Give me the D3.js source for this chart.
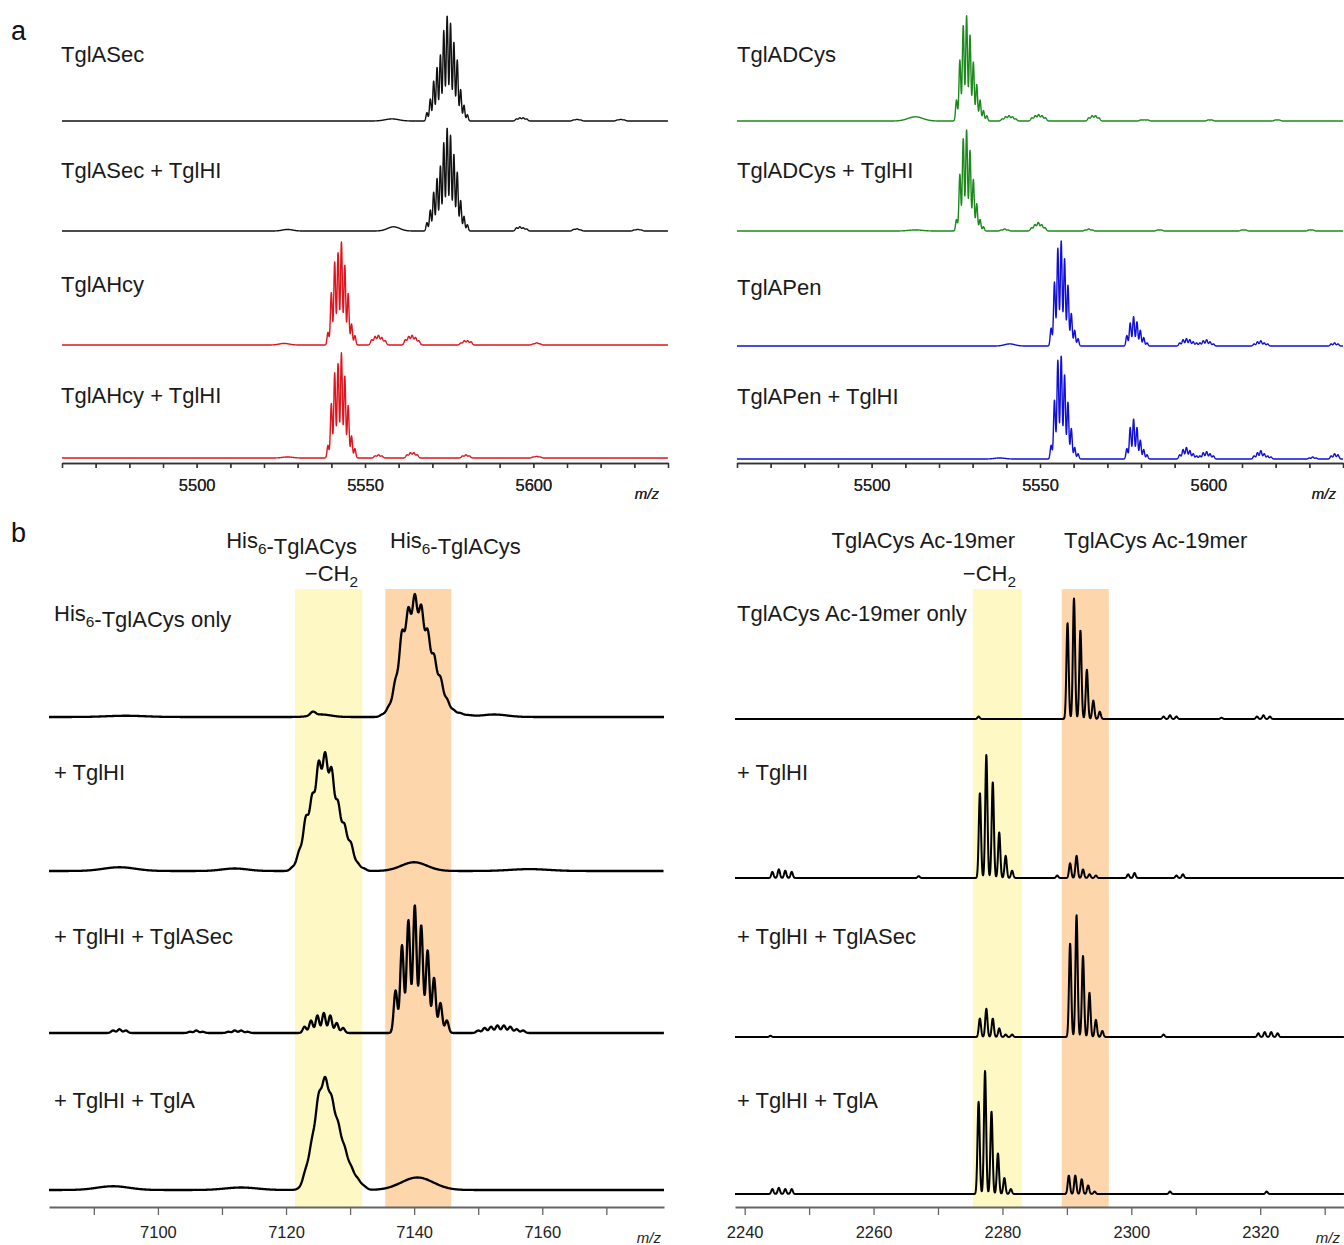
<!DOCTYPE html>
<html>
<head>
<meta charset="utf-8">
<script src="https://cdn.jsdelivr.net/npm/d3@7"></script>
<style>
  body { margin: 0; background: #fff; }
  svg { display: block; font-family: "Liberation Sans", Arial, sans-serif; }
</style>
</head>
<body>
<script>
// Peak lists: [first isotope m/z, peak width (sigma, Da), isotope heights spaced 1 Da]
// heights are % of the tallest peak in the panel row

// a, left
const tglASec = [
  [5568.4, 0.27, [8, 21, 38, 51, 63, 86, 100, 93, 75, 58, 30, 15, 6]],
  [5558, 2.0, [2]],
  [5595, 0.35, [2, 3, 3, 2]],
  [5612, 0.4, [1, 1.5, 1]],
  [5625, 0.4, [1, 1.5, 1]]
];
const tglASecHI = [
  [5568.4, 0.27, [8, 20, 37, 50, 62, 84, 98, 91, 73, 56, 29, 14, 6]],
  [5558.5, 1.8, [4]],
  [5595, 0.35, [3, 4, 3, 2]],
  [5527, 1.5, [1.5]],
  [5612, 0.4, [1.5, 2, 1]],
  [5630, 0.4, [1, 1.5, 1]]
];
const tglAHcy = [
  [5539, 0.27, [12, 50, 79, 88, 98, 76, 49, 20, 9]],
  [5552, 0.35, [5, 8, 9, 7, 4]],
  [5562, 0.35, [5, 8, 9, 7, 4]],
  [5578.5, 0.35, [2, 4, 4, 3]],
  [5600, 0.4, [1, 2, 1]],
  [5526, 1.5, [1.5]]
];
const tglAHcyHI = [
  [5539, 0.27, [12, 52, 81, 90, 100, 78, 50, 21, 9]],
  [5553, 0.35, [2, 3, 2]],
  [5562.5, 0.35, [3, 5, 5, 3]],
  [5579, 0.35, [2, 3, 2]],
  [5600, 0.4, [1, 1.5, 1]],
  [5527, 1.5, [1]]
];

// a, right
const tglADCys = [
  [5525.2, 0.27, [20, 58, 91, 100, 82, 56, 35, 20, 10, 5]],
  [5513, 2.2, [4]],
  [5538.8, 0.35, [2, 4, 5, 4, 2]],
  [5547.6, 0.35, [3, 5, 6, 5, 3]],
  [5564.5, 0.35, [3, 5, 5, 3]],
  [5580, 0.4, [1, 1, 1]],
  [5600, 0.4, [1, 1]],
  [5620, 0.4, [1, 1]]
];
const tglADCysHI = [
  [5525.2, 0.27, [11, 54, 88, 96, 77, 49, 26, 11, 4]],
  [5513, 2, [1]],
  [5538.5, 0.35, [1, 2, 1]],
  [5547.5, 0.35, [3, 6, 8, 6, 3]],
  [5563.5, 0.35, [1, 2, 1]],
  [5585, 0.4, [1, 1]],
  [5610, 0.4, [1, 1]],
  [5630, 0.4, [1, 1]]
];
const tglAPen = [
  [5553.3, 0.27, [17, 61, 93, 100, 83, 58, 31, 15, 7]],
  [5575.8, 0.27, [10, 22, 28, 23, 15, 8, 3]],
  [5591.5, 0.3, [3, 6, 7, 6, 4, 3]],
  [5597.5, 0.3, [3, 5, 6, 4, 2]],
  [5613.6, 0.3, [2, 4, 5, 3, 2]],
  [5636.5, 0.3, [2, 3, 2]],
  [5541, 1.5, [2]]
];
const tglAPenHI = [
  [5553.3, 0.27, [13, 56, 94, 98, 80, 54, 29, 11, 5]],
  [5575.8, 0.27, [10, 30, 38, 30, 18, 9, 4]],
  [5591.5, 0.3, [4, 9, 11, 8, 5, 3]],
  [5597.5, 0.3, [3, 6, 7, 5, 3]],
  [5613.6, 0.3, [3, 6, 8, 5, 3, 2]],
  [5630, 0.3, [1, 2, 1]],
  [5636.5, 0.3, [3, 5, 4]],
  [5538, 1.5, [1]]
];

// b, left
const his6Only = [
  [7135.1, 0.42, [2, 8, 27, 63, 79, 89, 81, 63, 45, 29, 13, 5, 2]],
  [7124.2, 0.4, [3]],
  [7125.5, 1.5, [2]],
  [7152.5, 2, [2]],
  [7148, 1, [1.5]],
  [7095, 3, [1]]
];
const his6HI = [
  [7121.1, 0.42, [3, 15, 40, 55, 80, 86, 75, 50, 34, 21, 6, 2]],
  [7140, 2, [7]],
  [7094, 2.5, [3]],
  [7112, 2, [2]],
  [7158, 3, [1.5]]
];
const his6HIASec = [
  [7122.9, 0.28, [5, 10, 14, 16, 14, 8, 4]],
  [7137.1, 0.28, [34, 70, 90, 102, 86, 66, 44, 24, 10]],
  [7150, 0.3, [2, 4, 5, 6, 6, 5, 3, 2]],
  [7093, 0.3, [2, 3, 2]],
  [7105, 0.3, [1, 2, 1]],
  [7111, 0.3, [1, 2, 2, 1]]
];
const his6HIA = [
  [7122.1, 0.48, [1, 14, 34, 65, 76, 62, 45, 29, 16, 8, 3]],
  [7140.5, 2.5, [10]],
  [7093, 2.5, [3]],
  [7113, 2.5, [2]]
];

// b, right
const acOnly = [
  [2290.1, 0.17, [78, 98, 72, 40, 15, 6]],
  [2276.3, 0.17, [2]],
  [2305, 0.17, [2, 3, 2]],
  [2319.5, 0.17, [2, 3, 2]],
  [2314, 0.17, [1]]
];
const acHI = [
  [2276.5, 0.17, [69, 100, 78, 37, 18, 6]],
  [2290.5, 0.17, [12, 18, 7, 3, 2]],
  [2244.3, 0.17, [5, 7, 6, 5]],
  [2288.5, 0.17, [2]],
  [2299.5, 0.17, [3, 4]],
  [2307, 0.17, [2, 3]],
  [2267, 0.17, [1.5]]
];
const acHIASec = [
  [2276.5, 0.17, [15, 23, 15, 7, 2, 2]],
  [2290.5, 0.17, [76, 99, 66, 36, 14, 5]],
  [2319.7, 0.17, [3, 4, 4, 3]],
  [2305, 0.17, [2]],
  [2244, 0.17, [1]]
];
const acHIA = [
  [2276.3, 0.17, [75, 100, 67, 33, 13, 4]],
  [2290.3, 0.17, [15, 15, 12, 7, 2]],
  [2244.3, 0.17, [4, 5, 4, 4]],
  [2306, 0.17, [2]],
  [2321, 0.17, [2]]
];

// shaded m/z windows in b
const bandsLeft = [[7121.4, 7131.9], [7135.5, 7145.8]];
const bandsRight = [[2275.4, 2283.0], [2289.2, 2296.5]];

// axes
const mzA = [5460, 5640];
const mzBL = [7083, 7179];
const mzBR = [2238.5, 2333];
const tickLabelsA = [5500, 5550, 5600];
const tickLabelsBL = [7100, 7120, 7140, 7160];
const tickLabelsBR = [2240, 2260, 2280, 2300, 2320];

const W = 1344, H = 1245;
const svg = d3.select('body').append('svg').attr('width', W).attr('height', H);

const bandColors = ['#fdf8c4', '#fdd6ab'];
const FS = 22;

function profile(peaks, domain) {
  const sMin = d3.min(peaks, p => p[1]);
  const step = sMin / 5;
  const pts = [];
  for (let m = domain[0]; m <= domain[1]; m += step) {
    let v = 0;
    for (const [m0, s, hs] of peaks) {
      hs.forEach((h, i) => {
        const d = m - (m0 + i);
        if (Math.abs(d) < 6 * s) v += h * Math.exp(-d * d / (2 * s * s));
      });
    }
    pts.push([m, v]);
  }
  return pts;
}

function label(x, y, parts, size) {
  const t = svg.append('text').attr('x', x).attr('y', y)
    .attr('font-size', size).attr('fill', '#1a1a1a');
  parts.forEach(p => {
    if (p.sub) {
      t.append('tspan').attr('dy', 6).attr('font-size', size * 0.7).text(p.t);
      t.append('tspan').attr('dy', -6).text('');
    } else {
      t.append('tspan').text(p.t);
    }
  });
  return t;
}

function panel(cfg) {
  const x = d3.scaleLinear().domain(cfg.domain).range(cfg.range);

  // bands
  if (cfg.bands) {
    svg.append('g').selectAll('rect').data(cfg.bands).join('rect')
      .attr('x', d => x(d[0])).attr('width', d => x(d[1]) - x(d[0]))
      .attr('y', cfg.bandTop).attr('height', cfg.axisY - cfg.bandTop)
      .attr('fill', (d, i) => bandColors[i]);
  }

  // traces
  cfg.traces.forEach(tr => {
    const y = d3.scaleLinear().domain([0, 100]).range([tr.base, tr.base - cfg.peakH]);
    const line = d3.line().x(d => x(d[0])).y(d => y(d[1]));
    svg.append('path').datum(profile(tr.peaks, cfg.domain))
      .attr('d', line).attr('fill', 'none')
      .attr('stroke', cfg.color).attr('stroke-width', cfg.lw)
      .attr('stroke-linejoin', 'round');
    label(cfg.labelX, tr.labelY, tr.label, FS);
  });

  // axis
  const minor = d3.range(Math.ceil(cfg.domain[0] / 10) * 10, cfg.domain[1] + 0.01, 10);
  const ax = svg.append('g').attr('transform', `translate(0,${cfg.axisY})`)
    .call(d3.axisBottom(x).tickValues(minor).tickSize(cfg.tick).tickSizeOuter(0)
      .tickPadding(cfg.pad)
      .tickFormat(d => cfg.labels.includes(d) ? d : ''));
  ax.select('.domain').attr('stroke', cfg.axisColor).attr('stroke-width', cfg.axisW);
  ax.selectAll('.tick line').attr('stroke', cfg.axisColor).attr('stroke-width', 1.3);
  ax.selectAll('.tick text').attr('font-size', 16.5).attr('fill', '#222')
    .attr('font-family', '"Liberation Sans", Arial, sans-serif');
  svg.append('text').attr('x', cfg.mzX).attr('y', cfg.mzY).attr('text-anchor', 'end')
    .attr('font-size', 15).attr('font-style', 'italic').attr('fill', '#222').text('m/z');
  return x;
}

const T = s => [{ t: s }];

// panel a
panel({
  domain: mzA, range: [62, 668], color: '#111', lw: 1.4, peakH: 105,
  axisY: 463, tick: 5, pad: 11, axisColor: '#333', axisW: 1.5, labels: tickLabelsA,
  mzX: 659, mzY: 499, labelX: 61,
  traces: [
    { peaks: tglASec, base: 121, labelY: 62, label: T('TglASec') },
    { peaks: tglASecHI, base: 231, labelY: 178, label: T('TglASec + TglHI') }
  ]
});
panel({
  domain: mzA, range: [62, 668], color: '#e0141c', lw: 1.4, peakH: 105,
  axisY: 463, tick: 5, pad: 11, axisColor: '#333', axisW: 1.5, labels: tickLabelsA,
  mzX: 659, mzY: 499, labelX: 61,
  traces: [
    { peaks: tglAHcy, base: 345, labelY: 292, label: T('TglAHcy') },
    { peaks: tglAHcyHI, base: 458, labelY: 403, label: T('TglAHcy + TglHI') }
  ]
});
panel({
  domain: mzA, range: [737, 1343], color: '#1b8a1b', lw: 1.4, peakH: 105,
  axisY: 463, tick: 5, pad: 11, axisColor: '#333', axisW: 1.5, labels: tickLabelsA,
  mzX: 1336, mzY: 499, labelX: 737,
  traces: [
    { peaks: tglADCys, base: 121, labelY: 62, label: T('TglADCys') },
    { peaks: tglADCysHI, base: 231, labelY: 178, label: T('TglADCys + TglHI') }
  ]
});
panel({
  domain: mzA, range: [737, 1343], color: '#0f0fd9', lw: 1.4, peakH: 105,
  axisY: 463, tick: 5, pad: 11, axisColor: '#333', axisW: 1.5, labels: tickLabelsA,
  mzX: 1336, mzY: 499, labelX: 737,
  traces: [
    { peaks: tglAPen, base: 346, labelY: 295, label: T('TglAPen') },
    { peaks: tglAPenHI, base: 459, labelY: 404, label: T('TglAPen + TglHI') }
  ]
});

// panel b
panel({
  domain: mzBL, range: [49, 664], color: '#000', lw: 2.3, peakH: 125,
  axisY: 1207, tick: 8, pad: 11, axisColor: '#666', axisW: 2, labels: tickLabelsBL,
  mzX: 661, mzY: 1243, labelX: 54, bands: bandsLeft, bandTop: 589,
  traces: [
    { peaks: his6Only, base: 717, labelY: 621, label: [{ t: 'His' }, { t: '6', sub: true }, { t: '-TglACys only' }] },
    { peaks: his6HI, base: 871, labelY: 780, label: T('+ TglHI') },
    { peaks: his6HIASec, base: 1033, labelY: 944, label: T('+ TglHI + TglASec') },
    { peaks: his6HIA, base: 1190, labelY: 1108, label: T('+ TglHI + TglA') }
  ]
});
panel({
  domain: mzBR, range: [735, 1344], color: '#000', lw: 2, peakH: 123,
  axisY: 1207, tick: 8, pad: 11, axisColor: '#666', axisW: 2, labels: tickLabelsBR,
  mzX: 1340, mzY: 1243, labelX: 737, bands: bandsRight, bandTop: 589,
  traces: [
    { peaks: acOnly, base: 719, labelY: 621, label: T('TglACys Ac-19mer only') },
    { peaks: acHI, base: 878, labelY: 780, label: T('+ TglHI') },
    { peaks: acHIASec, base: 1037, labelY: 944, label: T('+ TglHI + TglASec') },
    { peaks: acHIA, base: 1194, labelY: 1108, label: T('+ TglHI + TglA') }
  ]
});

// species headers over the bands
label(357, 548, [{ t: 'His' }, { t: '6', sub: true }, { t: '-TglACys' }], FS).attr('text-anchor', 'end');
label(358, 581, [{ t: '\u2212CH' }, { t: '2', sub: true }], FS).attr('text-anchor', 'end');
label(390, 548, [{ t: 'His' }, { t: '6', sub: true }, { t: '-TglACys' }], FS);
label(1015, 548, T('TglACys Ac-19mer'), FS).attr('text-anchor', 'end');
label(1016, 581, [{ t: '\u2212CH' }, { t: '2', sub: true }], FS).attr('text-anchor', 'end');
label(1064, 548, T('TglACys Ac-19mer'), FS);

// panel letters
svg.append('text').attr('x', 11).attr('y', 40).attr('font-size', 27).attr('fill', '#111').text('a');
svg.append('text').attr('x', 11).attr('y', 542).attr('font-size', 27).attr('fill', '#111').text('b');
</script>
</body>
</html>
